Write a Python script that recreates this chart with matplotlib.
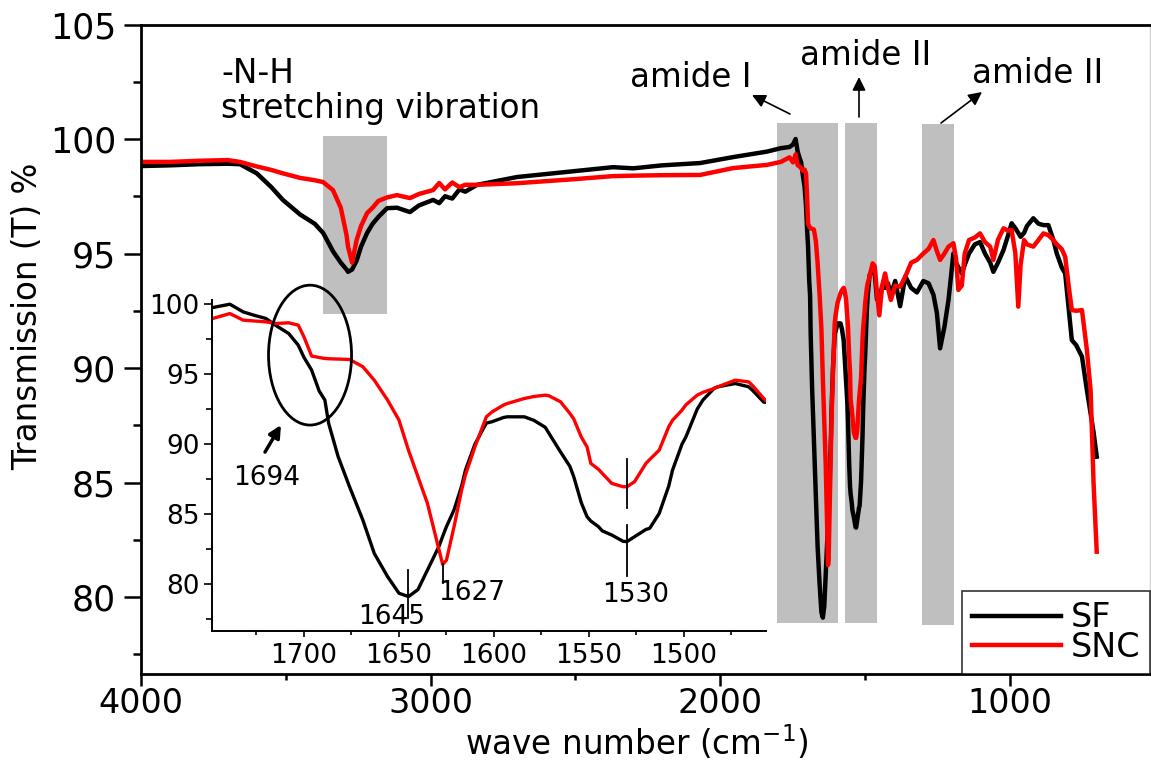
import matplotlib
matplotlib.use("Agg")
import matplotlib.pyplot as plt
from matplotlib.patches import Rectangle, Ellipse
from matplotlib.ticker import MultipleLocator

plt.rcParams['font.family'] = ['DejaVu Sans']
plt.rcParams['mathtext.default'] = 'regular'

# FTIR transmission spectra (wavenumber in cm^-1, transmission in %)
wavenumber = [
    4000, 3900, 3800, 3700, 3658, 3600, 3550, 3510, 3450, 3400, 3371, 3337,
    3310, 3290, 3285, 3271, 3255, 3240, 3219, 3200, 3180, 3150, 3116, 3071,
    3040, 2991, 2970, 2950, 2925, 2900, 2880, 2839, 2701, 2500, 2370, 2300,
    2200, 2069, 1955, 1838, 1790, 1760,
    1748, 1739, 1732, 1726, 1720, 1715, 1708, 1703, 1700, 1696, 1692, 1689,
    1687, 1682, 1676, 1669, 1663, 1656, 1650, 1645, 1640, 1635, 1629, 1627,
    1625, 1621, 1617, 1615, 1610, 1604, 1601, 1595, 1593, 1584, 1579, 1573,
    1571, 1565, 1560, 1558, 1554, 1551, 1549, 1545, 1543, 1538, 1532, 1530,
    1526, 1520, 1518, 1513, 1508, 1506, 1501, 1499, 1493, 1490, 1484, 1482,
    1473, 1466, 1464, 1458,
    1450, 1440, 1430, 1420, 1410, 1395, 1378, 1360, 1340, 1320, 1298, 1280,
    1263, 1251, 1240, 1225, 1211, 1194, 1185, 1177, 1165, 1155, 1140, 1120,
    1102, 1085, 1067, 1056, 1040, 1021, 1005, 993, 980, 970, 962, 950, 940,
    918, 900, 883, 866, 849, 837, 820, 808, 795, 785, 770, 750, 733, 720,
    710, 699,
]

sf = [
    98.82, 98.85, 98.90, 98.92, 98.90, 98.50, 97.90, 97.34, 96.70, 96.30, 95.90, 95.10,
    94.60, 94.30, 94.20, 94.30, 94.70, 95.30, 95.90, 96.30, 96.60, 96.98, 97.00, 96.81,
    97.10, 97.34, 97.20, 97.50, 97.40, 97.80, 97.70, 98.00, 98.34, 98.60, 98.77, 98.72,
    98.85, 98.95, 99.21, 99.45, 99.60, 99.65,
    99.76, 100.00, 99.45, 99.20, 98.98, 98.50, 97.90, 97.07, 96.20, 95.30, 93.80, 93.15,
    91.48, 89.10, 86.95, 84.57, 82.19, 80.53, 79.34, 79.10, 79.60, 81.00, 82.67, 83.40,
    84.10, 85.30, 87.00, 88.14, 90.00, 91.50, 91.60, 91.90, 91.95, 91.95, 91.70, 91.20,
    90.76, 89.45, 88.40, 87.67, 85.80, 84.81, 84.50, 84.10, 83.80, 83.50, 83.05, 83.03,
    83.38, 83.90, 83.98, 85.05, 87.00, 88.14, 90.00, 90.50, 92.50, 93.15, 94.00, 94.10,
    94.33, 94.10, 93.86, 93.00,
    92.90, 93.60, 93.50, 93.70, 93.20, 93.80, 92.70, 94.00, 93.50, 93.30, 93.80, 93.70,
    93.20, 92.40, 90.86, 91.80, 92.97, 95.00, 94.60, 94.40, 94.13, 94.50, 95.00, 95.40,
    95.50, 95.00, 94.60, 94.20, 94.60, 95.15, 95.80, 96.32, 96.10, 95.90, 95.73, 95.90, 96.20,
    96.54, 96.30, 96.24, 96.24, 95.60, 95.00, 94.40, 94.13, 92.50, 91.22, 91.00, 90.50, 89.04, 88.00,
    87.20, 86.13,
]

snc = [
    99.00, 99.00, 99.05, 99.08, 99.00, 98.80, 98.65, 98.50, 98.30, 98.20, 98.12, 97.77,
    97.00, 95.80, 95.30, 94.60, 95.60, 96.20, 96.77, 97.00, 97.30, 97.45, 97.55, 97.42,
    97.60, 97.77, 98.08, 97.80, 98.10, 97.90, 98.00, 98.00, 98.07, 98.25, 98.38, 98.40,
    98.42, 98.43, 98.73, 98.87, 99.00, 99.20,
    98.98, 99.33, 98.86, 98.80, 98.74, 98.62, 98.67, 98.50, 97.67, 96.30, 96.19, 96.12,
    96.10, 96.08, 96.05, 95.53, 94.57, 93.15, 91.72, 89.57, 87.67, 85.76, 82.50, 81.40,
    81.70, 84.10, 86.72, 87.80, 89.81, 91.95, 92.30, 92.79, 92.90, 93.26, 93.40, 93.50,
    93.45, 93.03, 92.19, 91.80, 90.50, 89.80, 88.62, 88.20, 87.91, 87.19, 86.95, 86.95,
    87.31, 88.62, 88.90, 89.57, 91.24, 91.70, 92.43, 92.80, 93.50, 93.70, 93.98, 94.10,
    94.57, 94.45, 94.20, 93.26,
    92.30, 93.60, 94.13, 93.50, 92.97, 93.60, 93.55, 94.00, 94.60, 94.72, 95.00, 95.20,
    95.59, 95.10, 94.72, 95.00, 95.30, 95.45, 94.80, 93.41, 93.60, 95.00, 95.59, 95.70,
    95.88, 95.50, 95.30, 94.72, 95.60, 96.10, 96.00, 96.03, 95.00, 92.68, 94.50, 95.59, 95.40,
    95.30, 95.60, 95.88, 95.80, 95.59, 95.40, 95.20, 94.86, 93.50, 92.53, 92.50, 92.53, 90.79, 89.00,
    85.00, 81.98,
]

series_labels = ['SF', 'SNC']
series_colors = ['black', '#ff0000']

# Highlighted absorption regions: (wavenumber start, end, T low, T high)
bands = [
    (3371, 3150, 92.36, 100.13),
    (1803, 1592, 78.87, 100.70),
    (1568, 1458, 78.87, 100.70),
    (1302, 1192, 78.80, 100.65),
]

# Peaks marked in the inset: (position, marker T low, marker T high)
inset_peaks_sf = [(1645, 77.6, 81.0), (1530, 80.6, 84.2)]
inset_peaks_snc = [(1627, 80.1, 81.4), (1530, 85.4, 88.9)]

W, H = 1151, 761
fig = plt.figure(figsize=(W / 100, H / 100), dpi=100)


def fx(px):
    return px / W


def fy(py):
    return 1 - py / H


# ---------------- main axes ----------------
ax = fig.add_axes([fx(141), fy(674), fx(1150) - fx(141), fy(24.5) - fy(674)])
ax.set_xlim(4000, 515)
ax.set_ylim(76.64, 105)

for x0, x1, y0, y1 in bands:
    ax.add_patch(Rectangle((x1, y0), x0 - x1, y1 - y0, facecolor='#bfbfbf',
                           edgecolor='none', zorder=0.5))

lines = []
for vals, lab, col in zip([sf, snc], series_labels, series_colors):
    ln, = ax.plot(wavenumber, vals, color=col, lw=3.2, label=lab, zorder=2,
                  solid_joinstyle='round')
    lines.append(ln)

ax.xaxis.set_major_locator(MultipleLocator(1000))
ax.xaxis.set_minor_locator(MultipleLocator(500))
ax.yaxis.set_major_locator(MultipleLocator(5))
ax.yaxis.set_minor_locator(MultipleLocator(2.5))
ax.tick_params(axis='x', which='major', direction='out', length=8.6, width=1.8,
               labelsize=24, pad=1)
ax.tick_params(axis='x', which='minor', direction='out', length=4.3, width=1.8)
ax.tick_params(axis='y', which='major', direction='out', length=12, width=1.8,
               labelsize=25, pad=6)
ax.tick_params(axis='y', which='minor', direction='out', length=5.8, width=1.8)
for side in ['left', 'bottom', 'top']:
    ax.spines[side].set_linewidth(2.0)
ax.spines['right'].set_linewidth(1.0)
ax.spines['right'].set_color('#d0d0d0')

leg = ax.legend(handles=lines, loc='lower right', fontsize=24, frameon=True,
                fancybox=False, edgecolor='black', borderaxespad=0,
                handlelength=2.65, handletextpad=0.3, labelspacing=-0.1,
                borderpad=0.3)
leg.get_frame().set_linewidth(1.2)

fig.text(fx(637), fy(755), 'wave number (cm$^{-1}$)', fontsize=23.5,
         ha='center', va='baseline')
fig.text(fx(28), fy(316), 'Transmission (T) %', fontsize=23.5, rotation=90,
         ha='center', va='center')

fig.text(fx(221), fy(83), '-N-H', fontsize=23.5, ha='left', va='baseline')
fig.text(fx(221), fy(118), 'stretching vibration', fontsize=23.5,
         ha='left', va='baseline')
fig.text(fx(630), fy(87), 'amide I', fontsize=23.5, ha='left', va='baseline')
fig.text(fx(800), fy(65), 'amide II', fontsize=23.5, ha='left', va='baseline')
fig.text(fx(972), fy(83), 'amide II', fontsize=23.5, ha='left', va='baseline')

arrow_kw = dict(arrowstyle='-|>', color='black', lw=1.2, mutation_scale=20,
                shrinkA=0, shrinkB=0)
for tail, head in [((790, 114), (752, 95)), ((859, 117), (859, 77)),
                   ((941, 123), (982, 92))]:
    ax.annotate('', xy=(fx(head[0]), fy(head[1])), xycoords='figure fraction',
                xytext=(fx(tail[0]), fy(tail[1])), textcoords='figure fraction',
                arrowprops=arrow_kw)

# ---------------- inset: amide region ----------------
ax_in = fig.add_axes([fx(212), fy(631), fx(766) - fx(212), fy(300) - fy(631)])
ax_in.patch.set_alpha(0)
ax_in.set_xlim(1748.4, 1456.8)
ax_in.set_ylim(76.64, 100.3)
for vals, col in zip([sf, snc], series_colors):
    ax_in.plot(wavenumber, vals, color=col, lw=2.4, solid_joinstyle='round')

ax_in.spines['top'].set_visible(False)
ax_in.spines['right'].set_visible(False)
for side in ['left', 'bottom']:
    ax_in.spines[side].set_linewidth(1.4)
ax_in.xaxis.set_major_locator(MultipleLocator(50))
ax_in.xaxis.set_minor_locator(MultipleLocator(25))
ax_in.yaxis.set_major_locator(MultipleLocator(5))
ax_in.yaxis.set_minor_locator(MultipleLocator(2.5))
ax_in.tick_params(axis='x', which='major', direction='out', length=4.3, width=1.2,
                  labelsize=19, pad=4)
ax_in.tick_params(axis='x', which='minor', direction='out', length=2.9, width=1.2)
ax_in.tick_params(axis='y', which='major', direction='out', length=5.8, width=1.2,
                  labelsize=19, pad=3)
ax_in.tick_params(axis='y', which='minor', direction='out', length=4.3, width=1.2)

for pos, lo, hi in inset_peaks_sf + inset_peaks_snc:
    ax_in.plot([pos, pos], [lo, hi], color='black', lw=1.3, clip_on=False, zorder=3)

ax_in.text(1653.7, 77.64, '1645', fontsize=19, ha='center', va='center')
ax_in.text(1629.5, 79.36, '1627', fontsize=19, ha='left', va='center')
ax_in.text(1525.3, 79.2, '1530', fontsize=19, ha='center', va='center')
ax_in.text(1719.5, 87.57, '1694', fontsize=19, ha='center', va='center')

ax_in.add_patch(Ellipse((1696.8, 96.36), 43.7, 10.0, facecolor='none',
                        edgecolor='black', lw=2.0, clip_on=False, zorder=4))
ax_in.annotate('', xy=(1712.1, 91.36), xytext=(1720.5, 89.43),
               arrowprops=dict(arrowstyle='-|>', color='black', lw=2.5,
                               mutation_scale=18, shrinkA=0, shrinkB=0),
               annotation_clip=False)

fig.savefig('out.png', dpi=100)
